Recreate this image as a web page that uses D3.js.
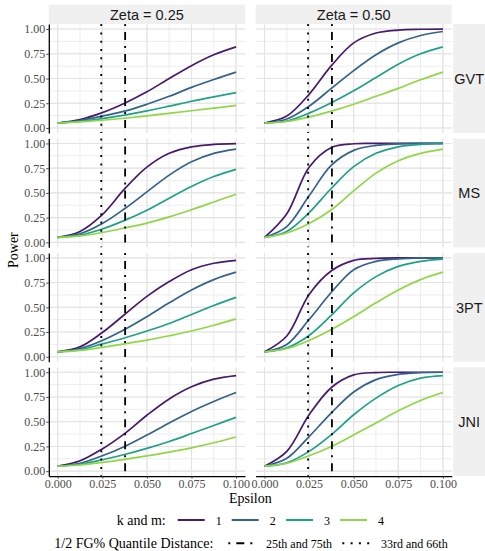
<!DOCTYPE html>
<html>
<head>
<meta charset="utf-8">
<script src="https://cdn.jsdelivr.net/npm/d3@7"></script>
<style>
  html, body { margin: 0; padding: 0; background: #ffffff; }
  svg { display: block; }
</style>
</head>
<body>
<svg id="chart" width="485" height="551"></svg>
<script>
// ---------------- DATA ----------------
const epsilon = [0, 0.0125, 0.025, 0.0375, 0.05, 0.0625, 0.075, 0.0875, 0.1];
const kAndM = ["1", "2", "3", "4"];
const methods = ["GVT", "MS", "3PT", "JNI"];
const zetaLabels = ["Zeta = 0.25", "Zeta = 0.50"];
const xTicks = [0, 0.025, 0.05, 0.075, 0.1];
const yTicks = [0, 0.25, 0.5, 0.75, 1];

// power for k and m = 1..4 (rows), at each epsilon
const gvt025 = [
  [0.05, 0.085, 0.155, 0.25, 0.365, 0.50, 0.63, 0.74, 0.82],
  [0.05, 0.075, 0.12, 0.17, 0.24, 0.32, 0.41, 0.49, 0.565],
  [0.05, 0.067, 0.095, 0.13, 0.172, 0.22, 0.27, 0.315, 0.357],
  [0.05, 0.062, 0.078, 0.098, 0.122, 0.148, 0.174, 0.20, 0.228]
];
const gvt050 = [
  [0.05, 0.12, 0.34, 0.63, 0.86, 0.96, 0.99, 0.998, 1.0],
  [0.05, 0.09, 0.22, 0.40, 0.58, 0.74, 0.86, 0.935, 0.975],
  [0.05, 0.07, 0.15, 0.255, 0.375, 0.51, 0.645, 0.75, 0.82],
  [0.05, 0.065, 0.11, 0.17, 0.24, 0.32, 0.40, 0.487, 0.565]
];
const ms025 = [
  [0.05, 0.11, 0.28, 0.54, 0.76, 0.90, 0.965, 0.99, 0.998],
  [0.05, 0.087, 0.19, 0.34, 0.51, 0.68, 0.815, 0.90, 0.943],
  [0.05, 0.073, 0.135, 0.222, 0.325, 0.447, 0.565, 0.665, 0.738],
  [0.05, 0.065, 0.10, 0.145, 0.195, 0.258, 0.33, 0.408, 0.487]
];
const ms050 = [
  [0.05, 0.29, 0.76, 0.96, 0.997, 1.0, 1.0, 1.0, 1.0],
  [0.05, 0.16, 0.47, 0.78, 0.93, 0.98, 0.995, 1.0, 1.0],
  [0.05, 0.11, 0.30, 0.547, 0.765, 0.90, 0.966, 0.99, 1.0],
  [0.05, 0.095, 0.19, 0.33, 0.52, 0.70, 0.825, 0.90, 0.943]
];
const pt3025 = [
  [0.05, 0.10, 0.245, 0.427, 0.61, 0.76, 0.88, 0.945, 0.975],
  [0.05, 0.083, 0.165, 0.275, 0.405, 0.545, 0.675, 0.78, 0.855],
  [0.05, 0.07, 0.13, 0.19, 0.26, 0.336, 0.427, 0.518, 0.60],
  [0.05, 0.064, 0.095, 0.13, 0.168, 0.212, 0.26, 0.318, 0.383]
];
const pt3050 = [
  [0.05, 0.21, 0.63, 0.87, 0.975, 0.995, 1.0, 1.0, 1.0],
  [0.05, 0.124, 0.376, 0.652, 0.88, 0.965, 0.99, 1.0, 1.0],
  [0.05, 0.09, 0.215, 0.42, 0.645, 0.81, 0.914, 0.965, 0.988],
  [0.05, 0.083, 0.165, 0.275, 0.405, 0.545, 0.675, 0.78, 0.855]
];
const jni025 = [
  [0.05, 0.105, 0.225, 0.38, 0.565, 0.73, 0.853, 0.93, 0.966],
  [0.05, 0.08, 0.155, 0.25, 0.365, 0.487, 0.604, 0.705, 0.795],
  [0.05, 0.07, 0.115, 0.168, 0.23, 0.30, 0.38, 0.462, 0.544],
  [0.05, 0.062, 0.088, 0.12, 0.155, 0.193, 0.236, 0.287, 0.345]
];
const jni050 = [
  [0.05, 0.20, 0.57, 0.846, 0.973, 0.997, 1.0, 1.0, 1.0],
  [0.05, 0.13, 0.35, 0.59, 0.80, 0.925, 0.978, 0.995, 1.0],
  [0.05, 0.084, 0.20, 0.37, 0.57, 0.738, 0.866, 0.94, 0.966],
  [0.05, 0.08, 0.155, 0.25, 0.365, 0.487, 0.61, 0.715, 0.795]
];
// 1/2 FG% quantile distances
const quantileLabels = ["25th and 75th", "33rd and 66th"];
const quantileValues = [0.0378, 0.0244];

// ---------------- STYLE / LAYOUT ----------------
const seriesColors = ["#481a6c", "#33638d", "#1fa187", "#8fd744"];
const quantileDash = ["2,6,8,6", "2,6.3"];
const serif = "Liberation Serif, Times New Roman, DejaVu Serif, serif";
const sans = "Liberation Sans, Arial, sans-serif";

const panelData = [
  [gvt025, gvt050],
  [ms025, ms050],
  [pt3025, pt3050],
  [jni025, jni050]
];

const colX = [48.8, 255.6];
const panelW = 196.2;
const rowY0 = 24.1, panelH = 108.8, rowStep = 114.4;

const svg = d3.select("#chart");

const x = d3.scaleLinear().domain([-0.005, 0.105]).range([0, panelW]);
const y = d3.scaleLinear().domain([-0.05, 1.05]).range([panelH, 0]);

const xMinor = d3.range(0, 0.1001, 0.0125);
const yMinor = d3.range(0, 1.0001, 0.125);

const line = d3.line()
  .x((d, i) => x(epsilon[i]))
  .y(d => y(d))
  .curve(d3.curveCatmullRom.alpha(0.5));

methods.forEach((m, r) => {
  const py = rowY0 + r * rowStep;
  zetaLabels.forEach((z, c) => {
    const px = colX[c];
    const g = svg.append("g").attr("transform", `translate(${px},${py})`);
    g.append("rect").attr("width", panelW).attr("height", panelH).attr("fill", "#ffffff");
    // minor grid
    g.selectAll(".vminor").data(xMinor).enter().append("line")
      .attr("x1", d => x(d)).attr("x2", d => x(d))
      .attr("y1", 0).attr("y2", panelH)
      .attr("stroke", "#ebebeb").attr("stroke-width", 0.9);
    g.selectAll(".hminor").data(yMinor).enter().append("line")
      .attr("y1", d => y(d)).attr("y2", d => y(d))
      .attr("x1", 0).attr("x2", panelW)
      .attr("stroke", "#ebebeb").attr("stroke-width", 0.9);
    // major grid
    g.selectAll(".vmajor").data(xTicks).enter().append("line")
      .attr("x1", d => x(d)).attr("x2", d => x(d))
      .attr("y1", 0).attr("y2", panelH)
      .attr("stroke", "#e3e3e3").attr("stroke-width", 1.1);
    g.selectAll(".hmajor").data(yTicks).enter().append("line")
      .attr("y1", d => y(d)).attr("y2", d => y(d))
      .attr("x1", 0).attr("x2", panelW)
      .attr("stroke", "#e3e3e3").attr("stroke-width", 1.1);

    // curves
    const series = panelData[r][c];
    series.forEach((vals, k) => {
      g.append("path").datum(vals)
        .attr("d", line)
        .attr("fill", "none")
        .attr("stroke", seriesColors[k])
        .attr("stroke-width", 1.7);
    });

    // quantile lines
    quantileValues.forEach((q, i) => {
      g.append("line")
        .attr("x1", x(q)).attr("x2", x(q))
        .attr("y1", 0).attr("y2", panelH)
        .attr("stroke", "#000")
        .attr("stroke-width", 1.8)
        .attr("stroke-dasharray", quantileDash[i]);
    });

    // axes
    if (c === 0) {
      const ax = g.append("g")
        .call(d3.axisLeft(y).tickValues(yTicks).tickFormat(d3.format(".2f"))
          .tickSizeInner(2.5).tickSizeOuter(0).tickPadding(1));
      ax.attr("font-family", serif).attr("font-size", 12);
      ax.select(".domain").attr("stroke", "#000").attr("stroke-width", 1.3);
      ax.selectAll(".tick line").attr("stroke", "#333").attr("stroke-width", 0.9);
      ax.selectAll(".tick text").attr("fill", "#4d4d4d");
    }
    if (r === methods.length - 1) {
      const ax = g.append("g").attr("transform", `translate(0,${panelH})`)
        .call(d3.axisBottom(x).tickValues(xTicks).tickFormat(d3.format(".3f"))
          .tickSizeInner(2.5).tickSizeOuter(0).tickPadding(0.5));
      ax.attr("font-family", serif).attr("font-size", 12);
      ax.select(".domain").attr("stroke", "#000").attr("stroke-width", 1.3);
      ax.selectAll(".tick line").attr("stroke", "#333").attr("stroke-width", 0.9);
      ax.selectAll(".tick text").attr("fill", "#4d4d4d");
    }
  });

  // right strip
  svg.append("rect")
    .attr("x", 453.3).attr("y", py).attr("width", 485 - 453.3).attr("height", panelH)
    .attr("fill", "#f0f0f0");
  svg.append("text")
    .attr("x", 469.2).attr("y", py + panelH / 2 + 5.2)
    .attr("text-anchor", "middle")
    .attr("font-family", sans).attr("font-size", 14.5).attr("fill", "#1a1a1a")
    .text(m);
});

// top strips
zetaLabels.forEach((z, c) => {
  svg.append("rect")
    .attr("x", colX[c]).attr("y", 4.6).attr("width", panelW).attr("height", rowY0 - 4.6)
    .attr("fill", "#f0f0f0");
  svg.append("text")
    .attr("x", colX[c] + panelW / 2).attr("y", 20.3)
    .attr("text-anchor", "middle")
    .attr("font-family", sans).attr("font-size", 14.5).attr("fill", "#1a1a1a")
    .text(z);
});

// axis titles
svg.append("text")
  .attr("x", (colX[0] + colX[1] + panelW) / 2).attr("y", 502.5)
  .attr("text-anchor", "middle")
  .attr("font-family", serif).attr("font-size", 14).attr("fill", "#000")
  .text("Epsilon");
svg.append("text")
  .attr("transform", `translate(17.5,${rowY0 + (3 * rowStep + panelH) / 2}) rotate(-90)`)
  .attr("text-anchor", "middle")
  .attr("font-family", serif).attr("font-size", 14).attr("fill", "#000")
  .text("Power");

// legend row 1: k and m
const leg1 = svg.append("g");
leg1.append("text").attr("x", 116.7).attr("y", 524.5)
  .attr("font-family", serif).attr("font-size", 14).text("k and m:");
const keyX1 = [177.7, 231.7, 286, 340];
kAndM.forEach((k, i) => {
  leg1.append("line")
    .attr("x1", keyX1[i]).attr("x2", keyX1[i] + 27)
    .attr("y1", 520).attr("y2", 520)
    .attr("stroke", seriesColors[i]).attr("stroke-width", 2);
  leg1.append("text").attr("x", keyX1[i] + 38).attr("y", 524.5)
    .attr("font-family", serif).attr("font-size", 12).text(k);
});

// legend row 2: quantile distance
const leg2 = svg.append("g");
leg2.append("text").attr("x", 54.3).attr("y", 547.5)
  .attr("font-family", serif).attr("font-size", 14).text("1/2 FG% Quantile Distance:");
const keyX2 = [228.3, 342.3];
const labX2 = [266, 381];
quantileLabels.forEach((lab, i) => {
  leg2.append("line")
    .attr("x1", keyX2[i]).attr("x2", keyX2[i] + 27)
    .attr("y1", 543.3).attr("y2", 543.3)
    .attr("stroke", "#000").attr("stroke-width", 2)
    .attr("stroke-dasharray", quantileDash[i]);
  leg2.append("text").attr("x", labX2[i]).attr("y", 547.5)
    .attr("font-family", serif).attr("font-size", 12).text(lab);
});
</script>
</body>
</html>
